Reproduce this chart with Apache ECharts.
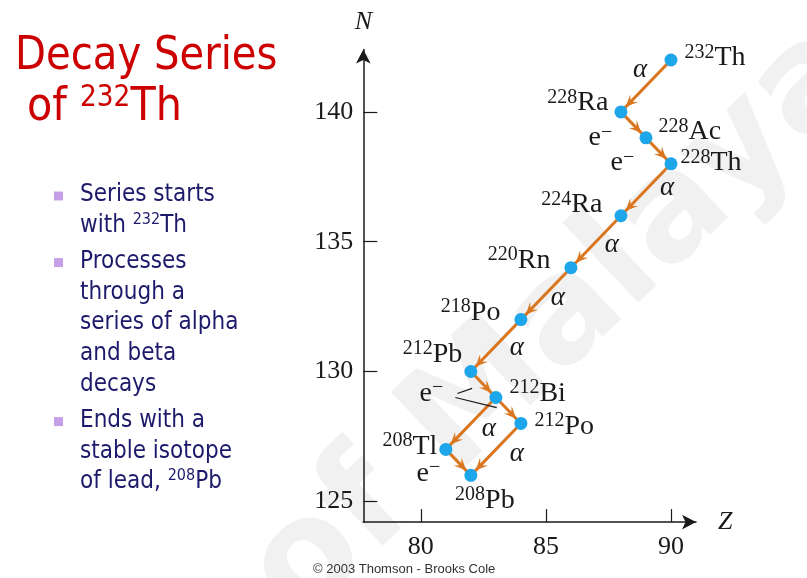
<!DOCTYPE html>
<html>
<head>
<meta charset="utf-8">
<script src="https://cdn.jsdelivr.net/npm/echarts@6/dist/echarts.min.js"></script>
<style>
  html, body { margin: 0; background: #fff; }
  #main { width: 807px; height: 578px; }
</style>
</head>
<body>
<div id="main"></div>
<script>
// nuclides of the 232Th chain
const symbols = ["Th", "Ra", "Ac", "Th", "Ra", "Rn", "Po", "Pb", "Bi", "Po", "Tl", "Pb"];
const massNumbers = [232, 228, 228, 228, 224, 220, 218, 212, 212, 212, 208, 208];
const protonNumbers = [90, 88, 89, 90, 88, 86, 84, 82, 83, 84, 81, 82];
const neutronNumbers = [142, 140, 139, 138, 136, 134, 132, 130, 129, 128, 127, 126];

// [from, to, kind]
const decays = [
  [0, 1, "alpha"], [1, 2, "beta"], [2, 3, "beta"], [3, 4, "alpha"],
  [4, 5, "alpha"], [5, 6, "alpha"], [6, 7, "alpha"], [7, 8, "beta"],
  [8, 9, "beta"], [8, 10, "alpha"], [9, 11, "alpha"], [10, 11, "beta"]
];

const zTicks = [80, 85, 90];
const nTicks = [125, 130, 135, 140];

const bullets = [
  ["Series starts", "with {s|232}Th"],
  ["Processes", "through a", "series of alpha", "and beta", "decays"],
  ["Ends with a", "stable isotope", "of lead, {s|208}Pb"]
];

// label placement for each nuclide: [position, distance, dx, dy]
const nuclideLabelPos = [
  ["right", 7, 0, -2], ["left", 6, 0, -9], ["right", 6, 0, -6], ["right", 3, 0, -1],
  ["left", 12, 0, -11], ["left", 14, 0, -7], ["left", 14, 0, -7], ["left", 2, 0, -17],
  ["right", 7, 0, -4], ["right", 7, 0, 3], ["left", 2, 0, -3], ["bottom", 3, 14, 0]
];
// pixel offset of the alpha / e- tag from the middle of each arrow (null = no tag)
const decayTagOffset = [
  [-6, -16], [-33, 13], [-36, 12], [21, -2], [16, 3], [12, 4], [21, 2],
  [-52, 9], null, [18, 5], [21, 4], [-30, 11]
];

const SERIF = "Liberation Serif";
const SANS = "DejaVu Sans";
const INK = "#1a1a1a";
const ORANGE = "#d9761f";
const DOT = "#1ea6ea";
const NAVY = "#1d1a6b";
const RED = "#cc0000";

const chart = echarts.init(document.getElementById("main"));

const supRich = {
  s: { fontFamily: SERIF, fontSize: 20, color: INK, verticalAlign: "top", lineHeight: 21 },
  t: { fontFamily: SERIF, fontSize: 28, color: INK, lineHeight: 31 },
  a: { fontFamily: SERIF, fontSize: 27, fontStyle: "italic", color: INK, lineHeight: 31 }
};

const nuclideData = protonNumbers.map((z, i) => {
  const p = nuclideLabelPos[i];
  return {
    value: [z, neutronNumbers[i]],
    label: { position: p[0], distance: p[1], offset: [p[2], p[3]] }
  };
});

const arrowData = decays.map(d => [
  protonNumbers[d[0]], neutronNumbers[d[0]],
  protonNumbers[d[1]], neutronNumbers[d[1]]
]);

const midOf = d => [
  (protonNumbers[d[0]] + protonNumbers[d[1]]) / 2,
  (neutronNumbers[d[0]] + neutronNumbers[d[1]]) / 2
];

const tagData = decays.map((d, k) => ({
  value: midOf(d),
  label: decayTagOffset[k]
    ? { show: true, offset: decayTagOffset[k], formatter: d[2] === "alpha" ? "{a|α}" : "{t|e}{s|−}" }
    : { show: false }
}));

function renderArrow(params, api) {
  const a = api.coord([api.value(0), api.value(1)]);
  const b = api.coord([api.value(2), api.value(3)]);
  const dx = b[0] - a[0], dy = b[1] - a[1];
  const len = Math.sqrt(dx * dx + dy * dy);
  const ux = dx / len, uy = dy / len;
  const nx = -uy, ny = ux;
  const tip = [b[0] - ux * 7, b[1] - uy * 7];
  const L = 12, W = 5.5, notch = 7;
  const back = [tip[0] - ux * L, tip[1] - uy * L];
  const mid = [tip[0] - ux * notch, tip[1] - uy * notch];
  return {
    type: "group",
    children: [
      {
        type: "line",
        shape: { x1: a[0], y1: a[1], x2: b[0], y2: b[1] },
        style: { stroke: ORANGE, lineWidth: 3 }
      },
      {
        type: "polygon",
        shape: { points: [tip, [back[0] + nx * W, back[1] + ny * W], mid, [back[0] - nx * W, back[1] - ny * W]] },
        style: { fill: ORANGE }
      }
    ]
  };
}

// slide text
const graphics = [];
graphics.push({
  type: "text", id: "title1", x: 15, y: 57, scaleX: 0.855, z: 10,
  style: { text: "Decay Series", fontFamily: SANS, fontSize: 47, fill: RED, verticalAlign: "middle" }
});
graphics.push({
  type: "text", id: "title2", x: 27, y: 108, scaleX: 0.88, z: 10,
  style: {
    text: "{a|of }{s|232}{a|Th}", verticalAlign: "middle",
    rich: {
      a: { fontFamily: SANS, fontSize: 47, fill: RED, lineHeight: 50 },
      s: { fontFamily: SANS, fontSize: 30, fill: RED, verticalAlign: "top", lineHeight: 30 }
    }
  }
});

let by = 195;
bullets.forEach((lines, bi) => {
  graphics.push({
    type: "rect", id: "sq" + bi, z: 10,
    shape: { x: 54, y: by - 3.5, width: 9, height: 9 },
    style: { fill: "#c6a0e6" }
  });
  lines.forEach((ln, li) => {
    graphics.push({
      type: "text", id: "b" + bi + "_" + li, x: 80, y: by, scaleX: 0.9, z: 10,
      style: {
        text: "{m|" + ln.replace(/\{s\|(\d+)\}/g, "}{s|$1}{m|") + "}",
        verticalAlign: "middle",
        rich: {
          m: { fontFamily: SANS, fontSize: 24, fill: NAVY, lineHeight: 28 },
          s: { fontFamily: SANS, fontSize: 16, fill: NAVY, verticalAlign: "top", lineHeight: 18 }
        }
      }
    });
    by += 30.8;
  });
  by += 5;
});

graphics.push({
  type: "text", id: "copy", x: 313, y: 569, z: 10,
  style: { text: "© 2003 Thomson - Brooks Cole", fontFamily: "Liberation Sans", fontSize: 13, fill: "#333", verticalAlign: "middle" }
});
graphics.push({
  type: "text", id: "wm", x: 560, y: 325, rotation: 0.76, z: -5,
  style: { text: "of Malaya", fontFamily: SANS, fontWeight: "bold", fontSize: 145, fill: "#f1f1f1", align: "center", verticalAlign: "middle" }
});

chart.setOption({
  animation: false,
  backgroundColor: "#fff",
  grid: { left: 363.3, right: 111, top: 49.6, bottom: 55.9 },
  xAxis: {
    type: "value", min: 77.7, max: 91,
    name: "Z", nameLocation: "end", nameGap: 22,
    nameTextStyle: { fontFamily: SERIF, fontStyle: "italic", fontSize: 26, color: INK },
    axisLine: { show: true, onZero: false, symbol: ["none", "arrow"], symbolSize: [11, 14], lineStyle: { color: INK, width: 1.5 } },
    axisTick: { show: true, inside: true, length: 13, customValues: zTicks, lineStyle: { color: INK, width: 1.2 } },
    axisLabel: { customValues: zTicks, margin: 12, fontFamily: SERIF, fontSize: 26, color: INK },
    splitLine: { show: false }
  },
  yAxis: {
    type: "value", min: 124.2, max: 142.4,
    name: "N", nameLocation: "end", nameGap: 14,
    nameTextStyle: { fontFamily: SERIF, fontStyle: "italic", fontSize: 26, color: INK },
    axisLine: { show: true, onZero: false, symbol: ["none", "arrow"], symbolSize: [11, 14], lineStyle: { color: INK, width: 1.5 } },
    axisTick: { show: true, inside: true, length: 14, customValues: nTicks, lineStyle: { color: INK, width: 1.2 } },
    axisLabel: { customValues: nTicks, margin: 10, fontFamily: SERIF, fontSize: 26, color: INK },
    splitLine: { show: false }
  },
  series: [
    {
      type: "custom",
      z: 2,
      silent: true,
      renderItem: renderArrow,
      data: arrowData
    },
    {
      type: "scatter",
      z: 4,
      symbolSize: 13,
      itemStyle: { color: DOT, opacity: 1 },
      label: {
        show: true,
        color: INK,
        formatter: p => "{s|" + massNumbers[p.dataIndex] + "}{t|" + symbols[p.dataIndex] + "}",
        rich: supRich
      },
      data: nuclideData
    },
    {
      type: "scatter",
      z: 5,
      symbolSize: 0,
      silent: true,
      itemStyle: { opacity: 1 },
      label: { show: true, position: "inside", color: INK, textBorderWidth: 0, opacity: 1, rich: supRich },
      data: tagData
    }
  ],
  graphic: graphics
});

// thin pointer lines from the shared e- tag to both beta arrows of 212Pb -> 212Bi -> 212Po
const m1 = chart.convertToPixel({ gridIndex: 0 }, midOf(decays[7]));
const m2 = chart.convertToPixel({ gridIndex: 0 }, midOf(decays[8]));
const tag = [m1[0] + decayTagOffset[7][0], m1[1] + decayTagOffset[7][1]];
function pointer(start, end, gap) {
  const dx = end[0] - start[0], dy = end[1] - start[1];
  const len = Math.sqrt(dx * dx + dy * dy);
  return [end[0] - dx / len * gap, end[1] - dy / len * gap];
}
const s1 = [tag[0] + 26, tag[1]];
const s2 = [tag[0] + 24, tag[1] + 4];
const e1 = pointer(s1, m1, 12);
const e2 = pointer(s2, m2, 12);
chart.setOption({
  graphic: [
    { type: "line", id: "p1", z: 10, shape: { x1: s1[0], y1: s1[1], x2: e1[0], y2: e1[1] }, style: { stroke: INK, lineWidth: 1.2 } },
    { type: "line", id: "p2", z: 10, shape: { x1: s2[0], y1: s2[1], x2: e2[0], y2: e2[1] }, style: { stroke: INK, lineWidth: 1.2 } }
  ]
});
</script>
</body>
</html>
